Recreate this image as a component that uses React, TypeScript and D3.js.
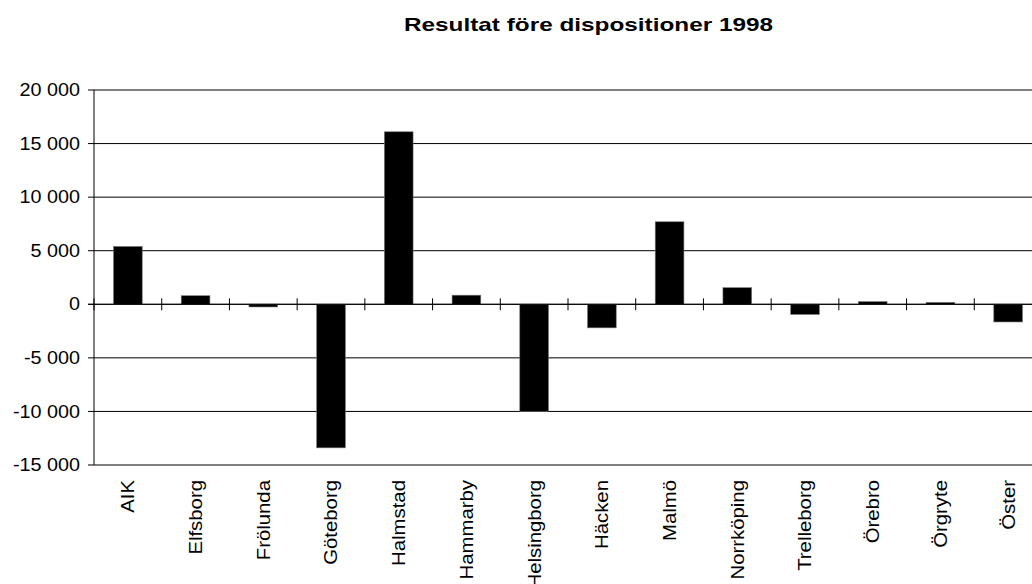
import * as d3 from "d3"

const teams = [
  "AIK", "Elfsborg", "Frölunda", "Göteborg", "Halmstad", "Hammarby", "Helsingborg",
  "Häcken", "Malmö", "Norrköping", "Trelleborg", "Örebro", "Örgryte", "Öster",
]
const results = [5400, 800, -250, -13400, 16100, 850, -10000, -2200, 7700, 1550, -950, 250, 180, -1650]
const yTicks = [20000, 15000, 10000, 5000, 0, -5000, -10000, -15000]
const title = "Resultat före dispositioner 1998"

const W = 1032
const H = 584
const left = 94
const right = 1042
const top = 90
const bottom = 465
const font = "Arial, 'Liberation Sans', sans-serif"

const fmt = (v: number) => {
  const s = Math.abs(v).toString().replace(/\B(?=(\d{3})+(?!\d))/g, " ")
  return (v < 0 ? "-" : "") + s
}

export default function App() {
  const x = d3.scaleBand<string>().domain(teams).range([left, right]).paddingInner(0).paddingOuter(0)
  const y = d3.scaleLinear().domain([-15000, 20000]).range([bottom, top])
  const bw = x.bandwidth()
  const barW = bw * 0.424
  const y0 = y(0)

  return (
    <div style={{ position: "fixed", left: 0, top: 0 }}>
      <svg width={W} height={H} style={{ display: "block", background: "#fff" }} fontFamily={font}>
        <text x={588.5} y={31} textAnchor="middle" fontWeight="bold" fontSize={18.5}
          textLength={369} lengthAdjust="spacingAndGlyphs">{title}</text>

        {/* gridlines + y ticks */}
        {yTicks.map(t => (
          <g key={t}>
            <line x1={left - 6} x2={right} y1={y(t)} y2={y(t)} stroke="#000" strokeWidth={1} />
            <g transform={`translate(80,${y(t)}) scale(1.13,1)`}>
              <text textAnchor="end" dy="0.35em" fontSize={17.5}>{fmt(t)}</text>
            </g>
          </g>
        ))}

        {/* y axis */}
        <line x1={left} x2={left} y1={top} y2={bottom} stroke="#000" />

        {/* bars */}
        {teams.map((t, i) => {
          const v = results[i]
          const cx = (x(t) ?? 0) + bw / 2
          return (
            <rect key={t} x={cx - barW / 2} width={barW}
              y={Math.min(y(v), y0)} height={Math.abs(y(v) - y0)}
              fill="#000" stroke="#777" strokeWidth={0.6} />
          )
        })}

        {/* zero axis with crossing ticks */}
        <line x1={left - 6} x2={right} y1={y0} y2={y0} stroke="#000" />
        {teams.map(t => (
          <line key={t} x1={x(t) ?? 0} x2={x(t) ?? 0} y1={y0 - 6} y2={y0 + 6} stroke="#000" />
        ))}

        {/* category labels */}
        {teams.map(t => (
          <g key={t} transform={`translate(${(x(t) ?? 0) + bw / 2},480) rotate(-90) scale(1.1,1)`}>
            <text textAnchor="end" dy="0.35em" fontSize={18.5}>{t}</text>
          </g>
        ))}
      </svg>
    </div>
  )
}
